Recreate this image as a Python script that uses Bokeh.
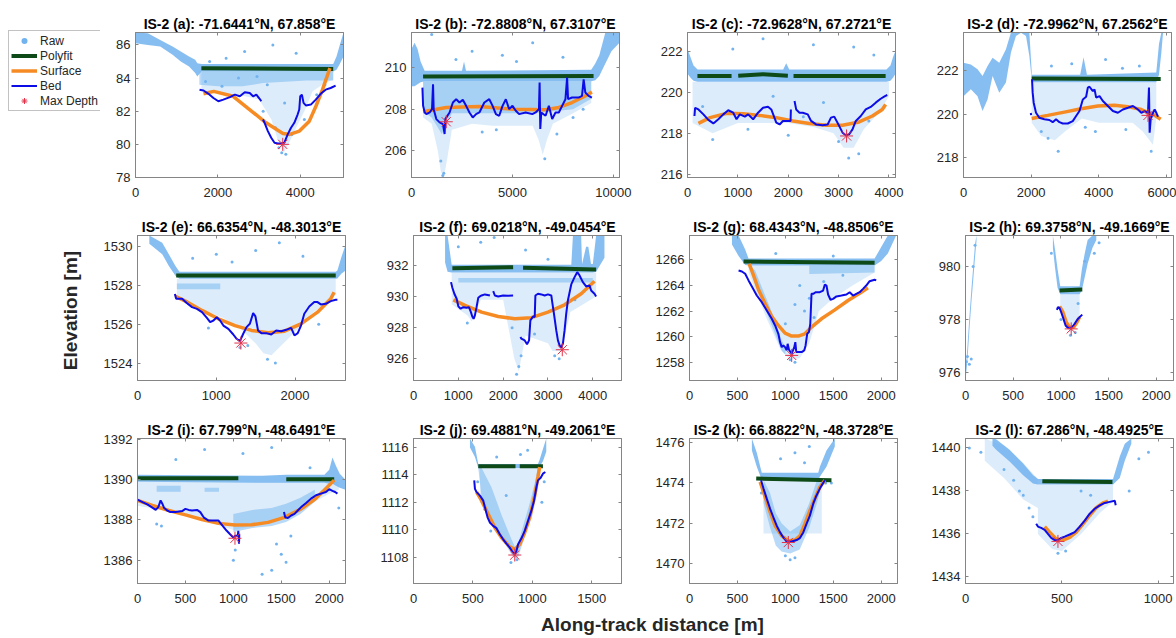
import math
from bokeh.plotting import figure
from bokeh.layouts import row, column
from bokeh.models import Range1d, FixedTicker, Legend, LegendItem, Label, BasicTickFormatter, LinearAxis
from bokeh.embed import file_html
from bokeh.resources import INLINE

nan = float("nan")

# ---------------- data ----------------
TITLES = ["IS-2 (a): -71.6441°N, 67.858°E", "IS-2 (b): -72.8808°N, 67.3107°E",
          "IS-2 (c): -72.9628°N, 67.2721°E", "IS-2 (d): -72.9962°N, 67.2562°E",
          "IS-2 (e): 66.6354°N, -48.3013°E", "IS-2 (f): 69.0218°N, -49.0454°E",
          "IS-2 (g): 68.4343°N, -48.8506°E", "IS-2 (h): 69.3758°N, -49.1669°E",
          "IS-2 (i): 67.799°N, -48.6491°E", "IS-2 (j): 69.4881°N, -49.2061°E",
          "IS-2 (k): 66.8822°N, -48.3728°E", "IS-2 (l): 67.286°N, -48.4925°E"]
LEGEND_LABELS = ["Raw", "Polyfit", "Surface", "Bed", "Max Depth"]
X_LABEL = "Along-track distance [m]"
Y_LABEL = "Elevation [m]"

# (a)
a_xlim = [0, 5050]; a_ylim = [78, 86.75]
a_xticks = [0, 2000, 4000]; a_yticks = [78, 80, 82, 84, 86]
a_band_x = [0, 300, 600, 900, 1100, 1300, 1450, 1500, 1600, 4800, 4880, 4950, 5050]
a_band_lo = [86.1, 86.0, 85.9, 85.4, 85.0, 84.7, 84.3, 84.1, 84.4, 84.4, 84.5, 84.8, 85.3]
a_band_hi = [86.75, 86.7, 86.3, 85.9, 85.6, 85.3, 85.1, 84.9, 84.85, 84.85, 85.3, 85.9, 86.75]
a_mid_x = [1550, 2000, 2600, 3100, 4150, 4200, 4800]
a_mid_lo = [83.6, 83.5, 83.5, 83.7, 83.85, 83.85, 83.85]
a_mid_hi = [84.4, 84.4, 84.4, 84.4, 84.4, 84.4, 84.4]
a_haze_x = [1600, 2000, 2500, 3000, 3300, 3450, 3600, 3750, 3900, 4100, 4300, 4600, 4800]
a_haze_lo = [83.3, 83.1, 83.0, 82.7, 81.5, 80.3, 79.5, 80.2, 81.0, 82.0, 83.2, 83.7, 83.9]
a_haze_hi = [84.4, 84.4, 84.4, 84.4, 84.4, 84.4, 84.4, 84.4, 84.4, 84.4, 84.4, 84.4, 84.4]
a_pts_x = [1800, 2200, 2650, 3335, 3900, 2500, 2950, 3100, 3400, 3480, 3550, 3650, 3800, 4100, 4400, 4600, 1700, 2100, 3200, 3620]
a_pts_y = [85.0, 85.2, 85.6, 86.0, 85.5, 84.0, 84.1, 82.0, 81.0, 79.8, 79.5, 79.4, 80.6, 81.5, 83.0, 83.6, 83.8, 83.5, 83.6, 82.5]
a_fit_x = [1600, 4800]; a_fit_y = [84.6, 84.55]
a_surf_x = [1650, 1900, 2370, 2770, 3170, 3580, 3740, 3980, 4220, 4380, 4540, 4720]
a_surf_y = [83.05, 83.2, 82.9, 82.1, 81.3, 80.65, 80.6, 80.8, 81.4, 82.3, 83.3, 84.6]
a_bed_x = [1555, 1651, 1772, 1892, 2012, 2132, 2293, 2413, 2533, 2653, 2774, 2854, 2934, 3014, 3054, nan,
           3094, 3134, 3214, 3295, 3375, 3455, 3535, 3615, 3695, 3776, 3856, 3936, 3976, 4000, 4040, 4080,
           4136, 4257, 4377, 4497, 4617, 4737, 4858]
a_bed_y = [83.3, 83.25, 83.05, 82.8, 82.6, 82.7, 82.85, 83.0, 82.9, 83.15, 83.1, 82.9, 83.0, 82.75, 82.6, nan,
           81.5, 81.3, 80.8, 80.4, 80.1, 80.05, 80.05, 80.1, 80.6, 81.0, 81.3, 81.8, 82.1, 82.9, 83.0, 82.5,
           82.35, 82.4, 82.7, 83.05, 83.3, 83.4, 83.55]
a_max = [3575, 80.0]

# (b)
b_xlim = [0, 10300]; b_ylim = [204.7, 211.7]
b_xticks = [0, 5000, 10000]; b_yticks = [206, 208, 210]
b_band_x = [0, 150, 300, 450, 650, 2500, 2600, 2700, 8900, 9100, 9300, 9600, 9900, 10300]
b_band_lo = [209.1, 209.1, 209.2, 209.3, 209.35, 209.35, 209.35, 209.35, 209.35, 209.4, 209.6, 210.2, 210.8, 211.2]
b_band_hi = [210.9, 211.2, 210.9, 210.3, 209.85, 209.85, 210.3, 209.85, 209.9, 210.2, 210.6, 211.7, 211.7, 211.7]
b_mid_x = [574, 1000, 1500, 2000, 4000, 6000, 8000, 8900]
b_mid_lo = [207.9, 207.6, 206.8, 207.8, 207.8, 207.8, 208.0, 208.5]
b_mid_hi = [209.35, 209.35, 209.35, 209.35, 209.35, 209.35, 209.35, 209.35]
b_haze_x = [574, 1000, 1300, 1450, 1600, 1750, 2000, 3000, 4000, 5000, 6000, 6300, 6500, 6700, 7000, 8000, 8900]
b_haze_lo = [207.6, 207.3, 206.0, 205.0, 204.7, 205.5, 207.0, 207.3, 207.2, 207.2, 207.2, 206.5, 205.8, 206.5, 207.3, 207.8, 208.3]
b_haze_hi = [209.35] * 17
b_pts_x = [1000, 3000, 4500, 6000, 7500, 2200, 5200, 1600, 1450, 6600, 3500, 8000, 4200, 7200, 8500, 1550]
b_pts_y = [211.6, 210.8, 210.6, 211.2, 210.5, 210.4, 210.3, 204.9, 205.5, 205.6, 206.9, 207.6, 207.0, 206.8, 208.0, 204.8]
b_fit_x = [574, 9016]; b_fit_y = [209.57, 209.6]
b_surf_x = [574, 1721, 3361, 5000, 6639, 7295, 7951, 8607, 8934]
b_surf_y = [207.87, 208.08, 208.13, 208.0, 207.97, 208.08, 208.32, 208.64, 208.83]
b_bed_x = [541, 574, 656, 738, 902, 1016, 1066, 1098, 1230, 1393, 1557, 1639, 1672, 1885, 2049, 2213, 2377,
           2541, 2705, 2869, 3033, 3197, 3361, 3607, 3852, 4016, 4180, 4344, 4508, 4672, 4836, 5000, 5164,
           5328, 5656, 5984, 6148, 6311, 6344, 6377, 6426, 6639, 6803, 6885, 6967, 7131, 7295, 7459, 7623,
           7705, 7754, 7951, 8279, 8443, 8525, 8607, 8770, 8934]
b_bed_y = [209.04, 208.16, 207.84, 207.76, 207.84, 208.0, 209.2, 208.0, 207.52, 207.36, 207.28, 206.8, 207.52,
           207.84, 208.32, 208.48, 208.32, 208.45, 208.16, 207.84, 207.6, 207.76, 207.84, 208.32, 208.48,
           208.16, 207.76, 207.68, 208.16, 208.48, 208.0, 208.16, 207.92, 207.76, 207.84, 207.76, 207.84,
           208.0, 209.28, 207.04, 207.84, 207.68, 208.16, 207.84, 207.52, 207.84, 207.84, 208.16, 208.48,
           209.52, 208.48, 208.56, 208.56, 208.64, 209.44, 208.8, 208.64, 208.56]
b_max = [1721, 207.39]

# (c)
c_xlim = [0, 4130]; c_ylim = [215.85, 222.9]
c_xticks = [0, 1000, 2000, 3000, 4000]; c_yticks = [216, 218, 220, 222]
c_band_x = [0, 60, 120, 200, 1900, 1960, 2020, 3950, 4030, 4080, 4130]
c_band_lo = [220.9, 220.7, 220.55, 220.5, 220.5, 220.5, 220.5, 220.5, 220.55, 220.7, 220.9]
c_band_hi = [222.1, 221.7, 221.3, 221.1, 221.1, 221.4, 221.1, 221.1, 221.3, 221.7, 222.0]
c_haze_x = [100, 500, 1000, 1500, 2000, 2500, 2900, 3100, 3300, 3500, 3800, 4000]
c_haze_lo = [218.5, 218.0, 218.5, 218.5, 218.5, 218.3, 218.0, 217.3, 217.3, 218.2, 219.0, 219.8]
c_haze_hi = [220.5] * 12
c_pts_x = [1500, 2500, 900, 3300, 3700, 500, 3200, 3400, 2000, 1200, 2700, 1700, 300, 3600, 3000, 2300]
c_pts_y = [222.6, 222.3, 222.1, 222.2, 221.8, 217.7, 216.8, 217.0, 217.9, 218.2, 219.5, 219.8, 219.3, 218.6, 217.6, 218.8]
c_fit_x = [197, 875, nan, 1007, 1500, 1993, nan, 2105, 3934]
c_fit_y = [220.78, 220.78, nan, 220.8, 220.87, 220.8, nan, 220.78, 220.78]
c_surf_x = [217, 447, 776, 1105, 1434, 1763, 2092, 2421, 2750, 3079, 3408, 3671, 3868, 3934]
c_surf_y = [218.48, 218.76, 218.97, 218.95, 218.87, 218.76, 218.6, 218.48, 218.39, 218.39, 218.55, 218.84, 219.16, 219.4]
c_bed_x = [138, 151, 217, 316, 414, 513, 612, 711, 809, 908, 974, 1039, 1138, 1204, 1303, 1401, 1500, 1599,
           1664, 1763, 1829, 1895, 1993, 2046, 2053, nan, 2125, 2158, 2224, 2289, 2388, 2454, 2553, 2684,
           2783, 2849, 2914, 3013, 3079, 3145, 3211, 3276, 3342, 3441, 3539, 3638, 3737, 3836, 3921, 3967]
c_bed_y = [218.84, 219.24, 219.16, 218.92, 218.65, 218.48, 218.68, 218.92, 219.12, 219.0, 218.68, 218.92,
           218.81, 218.92, 218.68, 219.0, 219.24, 219.29, 219.16, 218.52, 218.43, 218.6, 218.6, 218.6, 219.16,
           nan, 219.57, 219.16, 219.0, 219.0, 218.92, 218.6, 218.43, 218.39, 218.43, 218.76, 218.81, 218.35,
           218.03, 217.9, 217.95, 218.19, 218.6, 218.84, 219.16, 219.28, 219.49, 219.68, 219.81, 219.86]
c_max = [3158, 217.87]

# (d)
d_xlim = [0, 6150]; d_ylim = [217.1, 223.73]
d_xticks = [0, 2000, 4000, 6000]; d_yticks = [218, 220, 222]
d_band1_x = [0, 217, 415, 563, 711, 860, 1057, 1255, 1403, 1551, 1700, 1848, 1947, 2016]
d_band1_lo = [220.82, 221.13, 220.82, 220.14, 220.67, 221.74, 220.98, 221.44, 222.81, 223.57, 223.72, 223.57, 222.66, 221.59]
d_band1_hi = [222.35, 222.27, 222.05, 221.74, 222.2, 222.58, 222.35, 222.96, 223.73, 223.73, 223.73, 223.73, 223.73, 221.97]
d_band2_x = [2016, 3450, 3550, 3650, 5700, 5780, 5850, 5900]
d_band2_lo = [221.45, 221.45, 221.45, 221.45, 221.45, 221.8, 222.8, 223.73]
d_band2_hi = [221.8, 221.8, 222.6, 221.8, 221.9, 223.2, 223.73, 223.73]
d_haze_x = [2016, 2300, 2700, 3000, 3500, 4000, 4500, 5000, 5300, 5500, 5600, 5700]
d_haze_lo = [219.6, 219.0, 218.8, 219.2, 219.8, 219.6, 219.6, 219.6, 219.2, 218.8, 218.6, 219.8]
d_haze_hi = [221.45] * 12
d_pts_x = [2800, 2500, 3200, 4200, 4700, 5200, 2600, 3900, 4800, 5550, 2300, 3600]
d_pts_y = [218.3, 218.9, 222.3, 222.5, 222.1, 222.2, 222.2, 219.2, 219.3, 218.3, 219.2, 219.4]
d_fit_x = [2016, 5830]; d_fit_y = [221.63, 221.6]
d_surf_x = [2016, 2490, 2984, 3478, 3972, 4466, 4862, 5257, 5652, 5830]
d_surf_y = [219.8, 219.94, 220.09, 220.24, 220.37, 220.4, 220.34, 220.21, 219.94, 219.76]
d_bed_x = [1990, 2000, nan, 2026, 2045, 2075, 2144, 2243, 2391, 2540, 2638, 2737, 2836, 2935, 3083, 3231, 3330,
           3429, 3528, 3626, 3676, 3725, 3824, 3874, 3923, 4022, 4121, 4269, 4417, 4565, 4713, 4862, 5010,
           5158, 5257, 5356, 5455, 5484, 5504, 5534, 5603, 5652, 5702, 5751]
d_bed_y = [220.05, 219.95, nan, 221.59, 220.98, 220.52, 220.06, 219.83, 219.76, 219.73, 219.63, 219.76, 219.63,
           219.57, 219.57, 219.68, 219.91, 220.14, 220.67, 220.79, 221.21, 221.25, 221.05, 221.13, 220.75,
           220.82, 220.6, 220.37, 220.14, 220.06, 220.21, 220.29, 220.37, 220.21, 220.06, 220.14, 220.06,
           221.21, 219.15, 219.76, 220.06, 220.21, 220.06, 219.88]
d_max = [5455, 219.94]

# (e)
e_xlim = [0, 2640]; e_ylim = [1523.1, 1530.57]
e_xticks = [0, 1000, 2000]; e_yticks = [1524, 1526, 1528, 1530]
e_band_x = [150, 314, 398, 482, 532, 2516, 2537, 2587, 2642]
e_band_lo = [1530.14, 1529.6, 1529.0, 1528.5, 1528.34, 1528.34, 1528.35, 1528.6, 1528.77]
e_band_hi = [1530.57, 1530.2, 1529.6, 1529.0, 1528.7, 1528.7, 1528.77, 1529.45, 1530.1]
e_mid_x = [500, 1050]; e_mid_lo = [1527.8, 1527.8]; e_mid_hi = [1528.1, 1528.1]
e_haze_x = [500, 800, 1100, 1300, 1500, 1600, 1700, 1850, 2000, 2200, 2516]
e_haze_lo = [1527.3, 1526.8, 1526.3, 1525.8, 1525.0, 1524.5, 1524.4, 1525.0, 1525.6, 1526.5, 1527.5]
e_haze_hi = [1528.34] * 11
e_pts_x = [1000, 1500, 2100, 700, 1200, 1800, 1300, 1650, 1750, 1400, 900, 2300]
e_pts_y = [1529.6, 1529.8, 1529.5, 1529.4, 1529.2, 1530.2, 1524.8, 1524.2, 1524.0, 1524.9, 1525.8, 1526.0]
e_fit_x = [491, 2516]; e_fit_y = [1528.51, 1528.51]
e_surf_x = [482, 608, 818, 1027, 1237, 1447, 1656, 1866, 2075, 2285, 2453, 2495]
e_surf_y = [1527.43, 1527.19, 1526.71, 1526.28, 1525.93, 1525.68, 1525.56, 1525.64, 1526.02, 1526.62, 1527.31, 1527.65]
e_bed_x = [474, 491, 566, 629, 692, 755, 818, 881, 922, 964, 1006, 1048, 1090, 1153, 1216, 1258, 1300, 1342,
           1384, 1426, 1468, 1497, 1530, 1572, 1635, 1698, 1761, 1824, 1887, 1950, 1992, 2034, 2075, 2117,
           2180, 2243, 2285, 2327, 2390, 2453, 2516, 2537]
e_bed_y = [1527.56, 1527.31, 1527.31, 1527.08, 1526.88, 1526.79, 1526.62, 1526.33, 1526.11, 1526.19, 1526.36,
           1526.19, 1525.93, 1525.76, 1525.47, 1525.25, 1525.13, 1525.51, 1525.85, 1526.02, 1526.57, 1526.4,
           1525.68, 1525.54, 1525.54, 1525.47, 1525.68, 1525.64, 1525.71, 1525.81, 1525.42, 1525.54, 1525.93,
           1526.54, 1526.91, 1527.14, 1527.14, 1527.02, 1527.05, 1527.19, 1527.26, 1527.26]
e_max = [1312, 1525.03]

# (f)
f_xlim = [0, 4640]; f_ylim = [924.6, 933.93]
f_xticks = [0, 1000, 2000, 3000, 4000]; f_yticks = [926, 928, 930, 932]
f_band_x = [704, 760, 852, 3520, 3556, 3740, 3760, 3850, 3900, 3960, 4000, 4074, 4260]
f_band_lo = [932.2, 931.6, 931.55, 931.55, 931.55, 931.55, 931.55, 931.55, 931.55, 931.55, 931.55, 931.6, 932.5]
f_band_hi = [933.93, 933.93, 932.05, 932.05, 933.9, 933.9, 932.1, 933.2, 933.2, 932.1, 932.1, 933.93, 933.93]
f_mid_x = [1000, 4000]; f_mid_lo = [930.9, 930.9]; f_mid_hi = [931.2, 931.2]
f_haze_x = [852, 1200, 1300, 1500, 2000, 2250, 2350, 2500, 3000, 3100, 3300, 3500, 4074]
f_haze_lo = [929.5, 928.8, 928.4, 929.8, 929.8, 926.0, 925.2, 927.5, 927.0, 926.5, 926.5, 929.0, 930.0]
f_haze_hi = [931.55] * 13
f_pts_x = [1500, 1800, 2500, 3000, 1000, 2350, 2400, 3150, 2200, 1200, 2700, 3600, 2300, 3250]
f_pts_y = [933.5, 933.8, 933.0, 932.4, 933.2, 925.5, 926.2, 926.2, 928.0, 928.3, 927.6, 929.8, 925.0, 926.0]
f_fit_x = [867, 2222, nan, 2444, 4074]; f_fit_y = [931.83, 931.89, nan, 931.85, 931.74]
f_surf_x = [889, 1148, 1519, 1889, 2259, 2630, 3000, 3370, 3741, 4037]
f_surf_y = [929.79, 929.43, 929.0, 928.72, 928.57, 928.64, 929.0, 929.47, 930.18, 930.99]
f_bed_x = [837, 867, 911, 963, 1000, 1052, 1111, 1185, 1237, 1281, 1311, 1341, 1370, 1407, 1444, 1481, 1519,
           1593, 1681, 1704, nan, 1778, 1815, 1889, 2000, 2111, 2222, nan, 2385, 2407, 2481, 2533, 2578, 2607,
           2667, 2704, 2719, 2778, 2852, 2926, 3000, 3074, 3089, 3133, 3185, 3222, 3259, 3296, 3333, 3370,
           3407, 3444, 3519, 3593, 3652, 3704, 3778, 3852, 3926, 3963, 4037, 4074]
f_bed_y = [930.93, 930.57, 930.18, 929.86, 929.37, 929.22, 929.32, 929.28, 929.32, 929.0, 928.72, 928.57,
           928.79, 929.32, 929.92, 930.01, 930.07, 930.14, 930.09, 930.07, nan, 930.35, 930.07, 930.01, 930.07,
           930.05, 930.07, nan, 927.4, 927.29, 927.18, 926.93, 927.18, 928.47, 928.72, 928.68, 930.07, 930.18,
           930.14, 930.07, 930.14, 930.07, 929.75, 928.9, 927.82, 927.18, 926.86, 926.71, 926.97, 927.82,
           928.9, 929.75, 930.78, 931.25, 931.57, 931.36, 930.93, 930.65, 930.72, 930.39, 930.18, 930.01]
f_max = [3319, 926.58]

# (g)
g_xlim = [0, 2170]; g_ylim = [1256.57, 1267.9]
g_xticks = [0, 500, 1000, 1500, 2000]; g_yticks = [1258, 1260, 1262, 1264, 1266]
g_band_x = [443, 512, 581, 616, 1931, 2000, 2069, 2156]
g_band_lo = [1267.2, 1266.3, 1265.6, 1265.55, 1265.55, 1265.9, 1266.5, 1267.9]
g_band_hi = [1267.9, 1267.9, 1266.8, 1266.1, 1266.1, 1267.0, 1267.9, 1267.9]
g_mid_x = [616, 685, 754, 824, 893, 962, 1000]
g_mid_lo = [1265.55, 1264.13, 1262.82, 1261.52, 1260.22, 1258.9, 1258.6]
g_mid_hi = [1265.55, 1265.17, 1263.86, 1262.56, 1261.26, 1259.7, 1259.2]
g_mid2_x = [1250, 1931]; g_mid2_lo = [1264.9, 1265.0]; g_mid2_hi = [1265.55, 1265.55]
g_haze_x = [616, 800, 950, 1050, 1150, 1250, 1350, 1500, 1700, 1931]
g_haze_lo = [1265.0, 1261.5, 1259.0, 1258.2, 1258.3, 1259.5, 1262.0, 1263.0, 1264.0, 1265.0]
g_haze_hi = [1265.55] * 10
g_pts_x = [1100, 1200, 1300, 1000, 1400, 1600, 1250, 1150, 1050, 1100, 900, 1500]
g_pts_y = [1262.5, 1262.0, 1261.5, 1261.0, 1264.3, 1264.8, 1263.0, 1264.0, 1258.2, 1258.0, 1266.5, 1266.3]
g_fit_x = [564, 1931]; g_fit_y = [1265.87, 1265.77]
g_surf_x = [623, 668, 720, 789, 858, 927, 997, 1066, 1135, 1204, 1273, 1377, 1516, 1654, 1792, 1862]
g_surf_y = [1265.69, 1264.78, 1263.66, 1262.56, 1261.57, 1260.87, 1260.27, 1260.04, 1260.04, 1260.22,
            1260.74, 1261.39, 1262.09, 1262.82, 1263.47, 1263.81]
g_bed_x = [512, 547, 581, 616, 651, 702, 754, 806, 858, 893, 927, 945, 962, 979, 997, 1014, 1024, 1038, 1066,
           1093, 1104, 1114, 1142, 1170, 1197, 1211, 1228, 1246, 1260, 1273, 1291, 1315, 1360, 1394, 1412,
           1429, 1446, 1471, 1498, 1533, 1585, 1637, 1671, 1706, 1740, 1775, 1810, 1844, 1879, 1931, 1948]
g_bed_y = [1265.17, 1265.09, 1264.91, 1264.39, 1263.92, 1263.21, 1262.69, 1262.04, 1261.39, 1260.87, 1260.22,
           1259.57, 1259.18, 1259.31, 1259.18, 1258.92, 1259.44, 1258.97, 1258.66, 1259.18, 1259.57, 1258.79,
           1258.79, 1258.79, 1258.92, 1259.31, 1260.22, 1260.35, 1261.0, 1263.34, 1263.34, 1263.47, 1263.47,
           1263.6, 1264.07, 1263.99, 1263.29, 1262.88, 1262.95, 1263.14, 1263.21, 1263.29, 1263.47, 1263.21,
           1263.34, 1263.47, 1263.73, 1263.99, 1264.33, 1264.44, 1264.39]
g_max = [1066, 1258.53]

# (h)
h_xlim = [0, 2180]; h_ylim = [975.69, 981.17]
h_xticks = [0, 500, 1000, 1500, 2000]; h_yticks = [976, 978, 980]
h_band1_x = [0, 20, 40, 60, 80, 100, 115]
h_band1_lo = [975.69, 976.45, 977.55, 978.55, 979.45, 980.35, 980.95]
h_band1_hi = [976.05, 976.95, 978.05, 979.05, 979.95, 980.85, 981.17]
h_band2_x = [916, 940, 965, 993, 1196, 1220, 1250, 1280, 1330, 1371]
h_band2_lo = [980.7, 979.9, 979.2, 978.95, 978.95, 979.1, 979.6, 980.1, 980.7, 981.0]
h_band2_hi = [981.17, 980.6, 979.9, 979.25, 979.25, 979.9, 980.5, 981.0, 981.17, 981.17]
h_haze_x = [993, 1050, 1100, 1150, 1196]
h_haze_lo = [978.3, 977.8, 977.5, 977.8, 978.2]
h_haze_hi = [978.95] * 5
h_pts_x = [60, 20, 40, 10, 80, 100, 1250, 1350, 1400, 1100, 1150, 900, 1000, 1180]
h_pts_y = [976.5, 976.6, 976.3, 976.4, 980.0, 980.8, 980.2, 980.5, 980.9, 977.4, 977.5, 980.5, 978.0, 978.6]
h_fit_x = [986, 1224]; h_fit_y = [979.09, 979.13]
h_surf_x = [986, 1021, 1056, 1091, 1133, 1168, 1196]
h_surf_y = [978.49, 978.27, 977.89, 977.7, 977.7, 977.89, 978.08]
h_bed_x = [958, 969, 986, 1003, 1021, 1049, 1073, 1108, 1133, 1154, 1178, 1203, 1224]
h_bed_y = [978.36, 978.46, 978.43, 978.27, 978.08, 977.77, 977.68, 977.68, 977.77, 977.89, 978.02, 978.11, 978.18]
h_max = [1108, 977.64]

# (i)
i_xlim = [0, 2170]; i_ylim = [1384.84, 1392.05]
i_xticks = [0, 500, 1000, 1500, 2000]; i_yticks = [1386, 1388, 1390, 1392]
i_band_x = [0, 1300, 1550, 1950, 2000, 2034, 2070, 2110, 2170]
i_band_lo = [1389.9, 1389.85, 1389.85, 1389.85, 1389.8, 1389.8, 1389.7, 1389.6, 1389.5]
i_band_hi = [1390.25, 1390.2, 1390.25, 1390.25, 1390.5, 1391.1, 1390.7, 1390.3, 1390.0]
i_mid_x = [1000, 1200, 1400, 1550, 1700, 1850]
i_mid_lo = [1387.4, 1387.6, 1387.7, 1387.9, 1388.3, 1388.9]
i_mid_hi = [1388.3, 1388.5, 1388.6, 1388.8, 1389.1, 1389.5]
i_mid2_x = [200, 450]; i_mid2_lo = [1389.4, 1389.4]; i_mid2_hi = [1389.7, 1389.7]
i_mid3_x = [700, 850]; i_mid3_lo = [1389.4, 1389.4]; i_mid3_hi = [1389.6, 1389.6]
i_haze_x = [0, 500, 1000, 1500, 2000, 2100]
i_haze_lo = [1388.7, 1388.3, 1387.5, 1388.0, 1389.3, 1389.5]
i_haze_hi = [1389.9] * 6
i_pts_x = [200, 250, 1000, 1020, 1300, 1400, 1450, 1500, 1550, 1600, 700, 1100, 1400, 400, 1800, 2100]
i_pts_y = [1387.8, 1387.7, 1386.0, 1386.5, 1385.3, 1385.5, 1386.8, 1386.3, 1385.9, 1387.2, 1391.5, 1391.3, 1391.6, 1391.0, 1390.6, 1388.6]
i_fit_x = [0, 1052, nan, 1552, 2052]; i_fit_y = [1390.07, 1390.07, nan, 1390.02, 1390.02]
i_surf_x = [0, 155, 328, 500, 672, 845, 1017, 1190, 1362, 1534, 1707, 1845, 1948, 2052]
i_surf_y = [1388.97, 1388.72, 1388.47, 1388.25, 1388.02, 1387.83, 1387.75, 1387.76, 1387.88, 1388.13,
            1388.55, 1389.01, 1389.48, 1389.98]
i_bed_x = [0, 52, 103, 155, 190, 217, 241, 259, 276, 310, 345, 397, 466, 500, 534, 569, 621, 655, 690, 741,
           793, 845, 872, 897, 931, 966, 1000, 1017, 1045, 1052, 1059, 1062, nan, 1528, 1541, 1569, 1603,
           1638, 1672, 1707, 1759, 1810, 1862, 1914, 1966, 2000, 2034, 2062, 2086]
i_bed_y = [1389.01, 1388.89, 1388.77, 1388.61, 1388.5, 1388.64, 1388.97, 1388.81, 1388.61, 1388.47, 1388.39,
           1388.39, 1388.44, 1388.55, 1388.5, 1388.47, 1388.5, 1388.39, 1388.13, 1387.97, 1387.97, 1387.97,
           1387.8, 1387.66, 1387.46, 1387.29, 1387.13, 1387.21, 1387.21, 1387.46, 1386.82, 1387.29, nan,
           1388.39, 1388.13, 1388.1, 1388.22, 1388.3, 1388.47, 1388.64, 1388.84, 1389.06, 1389.23, 1389.31,
           1389.39, 1389.53, 1389.45, 1389.39, 1389.31]
i_max = [1017, 1387.09]

# (j)
j_xlim = [0, 1750]; j_ylim = [1106.07, 1116.66]
j_xticks = [0, 500, 1000, 1500]; j_yticks = [1108, 1110, 1112, 1114, 1116]
j_band_x = [475, 517, 545, 1047, 1061, 1089, 1117]
j_band_lo = [1116.0, 1115.3, 1114.5, 1114.5, 1114.6, 1115.0, 1115.7]
j_band_hi = [1116.66, 1116.05, 1114.8, 1114.8, 1115.1, 1115.9, 1116.66]
j_mid_x = [545, 573, 656, 740, 824, 860]
j_mid_lo = [1114.5, 1112.4, 1110.6, 1109.4, 1108.2, 1107.9]
j_mid_hi = [1114.5, 1114.5, 1113.1, 1111.1, 1109.3, 1108.6]
j_mid2_x = [860, 880, 930, 980, 1020, 1047]
j_mid2_lo = [1107.9, 1108.0, 1109.3, 1110.8, 1112.3, 1113.8]
j_mid2_hi = [1108.6, 1109.0, 1110.5, 1112.0, 1113.4, 1114.5]
j_haze_x = [559, 700, 852, 1000, 1047]
j_haze_lo = [1112.0, 1110.0, 1107.9, 1111.0, 1113.0]
j_haze_hi = [1114.5] * 5
j_pts_x = [900, 960, 700, 820, 870, 1100, 1080, 600, 540, 780, 650]
j_pts_y = [1115.5, 1115.8, 1115.3, 1107.6, 1107.8, 1113.5, 1112.0, 1111.5, 1113.5, 1112.5, 1109.9]
j_fit_x = [545, 858, nan, 894, 1089]; j_fit_y = [1114.63, 1114.63, nan, 1114.63, 1114.63]
j_surf_x = [531, 573, 628, 684, 740, 810, 852, 894, 936, 978, 1020, 1047, 1061]
j_surf_y = [1112.74, 1112.12, 1111.14, 1110.16, 1109.42, 1108.74, 1108.56, 1108.93, 1109.79, 1110.9, 1112.49,
            1113.84, 1114.58]
j_bed_x = [511, 517, 531, 559, 587, 601, 623, 642, 670, 698, 726, 754, 782, 810, 832, 852, 866, 880, 908, 936,
           964, 992, 1014, 1034, 1047, 1070, 1089, 1109]
j_bed_y = [1113.6, 1112.98, 1112.74, 1112.49, 1112.12, 1111.63, 1110.9, 1110.53, 1110.28, 1110.11, 1109.67,
           1109.3, 1108.98, 1108.69, 1108.39, 1108.2, 1108.44, 1108.93, 1109.37, 1109.91, 1110.65, 1111.39,
           1112.12, 1113.1, 1113.6, 1113.79, 1114.09, 1114.21]
j_max = [852, 1108.15]

# (k)
k_xlim = [0, 2170]; k_ylim = [1469.02, 1476.2]
k_xticks = [0, 500, 1000, 1500, 2000]; k_yticks = [1470, 1472, 1474, 1476]
k_band_x = [651, 702, 754, 1343, 1360, 1429, 1516]
k_band_lo = [1475.6, 1474.8, 1474.15, 1474.15, 1474.3, 1474.8, 1475.8]
k_band_hi = [1476.2, 1475.5, 1474.5, 1474.5, 1474.8, 1475.6, 1476.2]
k_mid_x = [772, 840, 900, 960, 1050, 1150, 1250, 1330, 1380]
k_mid_lo = [1473.0, 1471.8, 1470.9, 1470.6, 1470.5, 1470.7, 1471.8, 1473.0, 1474.0]
k_mid_hi = [1474.15, 1473.5, 1472.5, 1472.0, 1471.6, 1471.9, 1473.0, 1474.15, 1474.15]
k_haze_x = [772, 1380]; k_haze_lo = [1471.5, 1471.5]; k_haze_hi = [1474.15, 1474.15]
k_pts_x = [1100, 950, 1250, 1050, 1000, 1100, 1420, 1480, 750, 1200]
k_pts_y = [1475.5, 1475.2, 1475.8, 1470.2, 1470.4, 1470.3, 1474.0, 1474.0, 1473.5, 1475.0]
k_fit_x = [696, 1481]; k_fit_y = [1474.22, 1474.13]
k_surf_x = [737, 789, 841, 893, 962, 1031, 1100, 1152, 1204, 1256, 1308, 1360, 1412]
k_surf_y = [1474.05, 1473.3, 1472.55, 1471.88, 1471.38, 1471.13, 1471.17, 1471.38, 1471.97, 1472.63, 1473.22,
            1473.8, 1474.13]
k_bed_x = [747, 772, 806, 841, 875, 910, 945, 979, 1014, 1066, 1118, 1152, 1187, 1221, 1256, 1291, 1325, 1360,
           1394, 1412]
k_bed_y = [1474.13, 1473.72, 1473.22, 1472.72, 1472.3, 1471.88, 1471.55, 1471.3, 1471.1, 1471.1, 1471.17,
           1471.27, 1471.55, 1471.97, 1472.38, 1472.97, 1473.38, 1473.72, 1474.0, 1474.13]
k_max = [1031, 1471.05]

# (l)
l_xlim = [0, 1080]; l_ylim = [1433.69, 1440.44]
l_xticks = [0, 500, 1000]; l_yticks = [1434, 1436, 1438, 1440]
l_band_x = [140, 159, 229, 298, 350, 376, 766, 801, 827, 861]
l_band_lo = [1440.1, 1439.92, 1439.37, 1438.74, 1438.35, 1438.3, 1438.3, 1438.6, 1439.4, 1440.2]
l_band_hi = [1440.44, 1440.4, 1439.92, 1439.29, 1438.74, 1438.55, 1438.55, 1439.6, 1440.2, 1440.44]
l_haze_x = [376, 450, 500, 600, 700, 766]
l_haze_lo = [1436.0, 1435.3, 1435.2, 1436.0, 1437.0, 1437.5]
l_haze_hi = [1438.3] * 6
l_haze2_x = [100, 200, 300, 376]
l_haze2_lo = [1439.4, 1438.6, 1437.6, 1437.2]
l_haze2_hi = [1440.44, 1440.1, 1439.3, 1438.55]
l_pts_x = [20, 80, 200, 250, 300, 330, 280, 900, 950, 850, 480, 520, 600, 650, 350]
l_pts_y = [1440.0, 1439.8, 1439.0, 1438.5, 1437.8, 1437.2, 1438.0, 1439.5, 1439.8, 1438.0, 1435.1, 1435.2, 1438.0, 1437.8, 1436.8]
l_fit_x = [399, 763]; l_fit_y = [1438.45, 1438.42]
l_surf_x = [411, 437, 471, 506, 541, 575, 610, 645, 679, 714, 740]
l_surf_y = [1436.34, 1436.08, 1435.76, 1435.71, 1435.84, 1436.08, 1436.47, 1436.86, 1437.22, 1437.44, 1437.52]
l_bed_x = [367, 376, 393, 411, 428, 445, 463, 480, 497, 515, 541, 567, 593, 619, 645, 671, 697, 723, 749, 775, 780]
l_bed_y = [1436.47, 1436.34, 1436.28, 1436.19, 1436.0, 1435.81, 1435.71, 1435.71, 1435.81, 1435.87, 1435.97,
           1436.08, 1436.34, 1436.62, 1436.94, 1437.17, 1437.33, 1437.44, 1437.49, 1437.54, 1437.33]
l_max = [480, 1435.65]

# ---------------- assemble panel table ----------------
PANELS = [
    dict(xlim=a_xlim, ylim=a_ylim, xt=a_xticks, yt=a_yticks, dense=[(a_band_x, a_band_lo, a_band_hi)],
         mid=[(a_mid_x, a_mid_lo, a_mid_hi)], haze=[(a_haze_x, a_haze_lo, a_haze_hi)], pts=(a_pts_x, a_pts_y),
         fit=(a_fit_x, a_fit_y), surf=(a_surf_x, a_surf_y), bed=(a_bed_x, a_bed_y), mx=a_max),
    dict(xlim=b_xlim, ylim=b_ylim, xt=b_xticks, yt=b_yticks, dense=[(b_band_x, b_band_lo, b_band_hi)],
         mid=[(b_mid_x, b_mid_lo, b_mid_hi)], haze=[(b_haze_x, b_haze_lo, b_haze_hi)], pts=(b_pts_x, b_pts_y),
         fit=(b_fit_x, b_fit_y), surf=(b_surf_x, b_surf_y), bed=(b_bed_x, b_bed_y), mx=b_max),
    dict(xlim=c_xlim, ylim=c_ylim, xt=c_xticks, yt=c_yticks, dense=[(c_band_x, c_band_lo, c_band_hi)],
         mid=[], haze=[(c_haze_x, c_haze_lo, c_haze_hi)], pts=(c_pts_x, c_pts_y),
         fit=(c_fit_x, c_fit_y), surf=(c_surf_x, c_surf_y), bed=(c_bed_x, c_bed_y), mx=c_max),
    dict(xlim=d_xlim, ylim=d_ylim, xt=d_xticks, yt=d_yticks,
         dense=[(d_band1_x, d_band1_lo, d_band1_hi), (d_band2_x, d_band2_lo, d_band2_hi)],
         mid=[], haze=[(d_haze_x, d_haze_lo, d_haze_hi)], pts=(d_pts_x, d_pts_y),
         fit=(d_fit_x, d_fit_y), surf=(d_surf_x, d_surf_y), bed=(d_bed_x, d_bed_y), mx=d_max),
    dict(xlim=e_xlim, ylim=e_ylim, xt=e_xticks, yt=e_yticks, dense=[(e_band_x, e_band_lo, e_band_hi)],
         mid=[(e_mid_x, e_mid_lo, e_mid_hi)], haze=[(e_haze_x, e_haze_lo, e_haze_hi)], pts=(e_pts_x, e_pts_y),
         fit=(e_fit_x, e_fit_y), surf=(e_surf_x, e_surf_y), bed=(e_bed_x, e_bed_y), mx=e_max),
    dict(xlim=f_xlim, ylim=f_ylim, xt=f_xticks, yt=f_yticks, dense=[(f_band_x, f_band_lo, f_band_hi)],
         mid=[(f_mid_x, f_mid_lo, f_mid_hi)], haze=[(f_haze_x, f_haze_lo, f_haze_hi)], pts=(f_pts_x, f_pts_y),
         fit=(f_fit_x, f_fit_y), surf=(f_surf_x, f_surf_y), bed=(f_bed_x, f_bed_y), mx=f_max),
    dict(xlim=g_xlim, ylim=g_ylim, xt=g_xticks, yt=g_yticks, dense=[(g_band_x, g_band_lo, g_band_hi)],
         mid=[(g_mid_x, g_mid_lo, g_mid_hi), (g_mid2_x, g_mid2_lo, g_mid2_hi)],
         haze=[(g_haze_x, g_haze_lo, g_haze_hi)], pts=(g_pts_x, g_pts_y),
         fit=(g_fit_x, g_fit_y), surf=(g_surf_x, g_surf_y), bed=(g_bed_x, g_bed_y), mx=g_max),
    dict(xlim=h_xlim, ylim=h_ylim, xt=h_xticks, yt=h_yticks,
         dense=[(h_band1_x, h_band1_lo, h_band1_hi), (h_band2_x, h_band2_lo, h_band2_hi)],
         mid=[], haze=[(h_haze_x, h_haze_lo, h_haze_hi)], pts=(h_pts_x, h_pts_y),
         fit=(h_fit_x, h_fit_y), surf=(h_surf_x, h_surf_y), bed=(h_bed_x, h_bed_y), mx=h_max),
    dict(xlim=i_xlim, ylim=i_ylim, xt=i_xticks, yt=i_yticks, dense=[(i_band_x, i_band_lo, i_band_hi)],
         mid=[(i_mid_x, i_mid_lo, i_mid_hi), (i_mid2_x, i_mid2_lo, i_mid2_hi), (i_mid3_x, i_mid3_lo, i_mid3_hi)],
         haze=[(i_haze_x, i_haze_lo, i_haze_hi)], pts=(i_pts_x, i_pts_y),
         fit=(i_fit_x, i_fit_y), surf=(i_surf_x, i_surf_y), bed=(i_bed_x, i_bed_y), mx=i_max),
    dict(xlim=j_xlim, ylim=j_ylim, xt=j_xticks, yt=j_yticks, dense=[(j_band_x, j_band_lo, j_band_hi)],
         mid=[(j_mid_x, j_mid_lo, j_mid_hi), (j_mid2_x, j_mid2_lo, j_mid2_hi)],
         haze=[(j_haze_x, j_haze_lo, j_haze_hi)], pts=(j_pts_x, j_pts_y),
         fit=(j_fit_x, j_fit_y), surf=(j_surf_x, j_surf_y), bed=(j_bed_x, j_bed_y), mx=j_max),
    dict(xlim=k_xlim, ylim=k_ylim, xt=k_xticks, yt=k_yticks, dense=[(k_band_x, k_band_lo, k_band_hi)],
         mid=[(k_mid_x, k_mid_lo, k_mid_hi)], haze=[(k_haze_x, k_haze_lo, k_haze_hi)], pts=(k_pts_x, k_pts_y),
         fit=(k_fit_x, k_fit_y), surf=(k_surf_x, k_surf_y), bed=(k_bed_x, k_bed_y), mx=k_max),
    dict(xlim=l_xlim, ylim=l_ylim, xt=l_xticks, yt=l_yticks, dense=[(l_band_x, l_band_lo, l_band_hi)],
         mid=[], haze=[(l_haze_x, l_haze_lo, l_haze_hi), (l_haze2_x, l_haze2_lo, l_haze2_hi)],
         pts=(l_pts_x, l_pts_y),
         fit=(l_fit_x, l_fit_y), surf=(l_surf_x, l_surf_y), bed=(l_bed_x, l_bed_y), mx=l_max),
]

# ---------------- styles ----------------
FONT = "Liberation Sans"
RAW = "#72b3ef"
FIT = "#0d4a18"
SURF = "#f68b24"
BED = "#0c0ce6"
MAXD = "#e2334b"
AX = "#858585"
TXT = "#262626"

FRAME_W, FRAME_H = 208, 145
LEFT_W = 100


def draw_series(p, pts, fit, surf, bed, mx, raw_size=3):
    r_raw = p.scatter(x=pts[0], y=pts[1], size=raw_size, marker="circle", fill_color=RAW, line_color=None)
    r_fit = p.line(x=fit[0], y=fit[1], line_color=FIT, line_width=4)
    r_surf = p.line(x=surf[0], y=surf[1], line_color=SURF, line_width=3.5)
    r_bed = p.line(x=bed[0], y=bed[1], line_color=BED, line_width=2)
    r_max = p.scatter(x=mx[0], y=mx[1], marker="asterisk", size=13, line_color=MAXD, line_width=1)
    return [r_raw, r_fit, r_surf, r_bed, r_max]


def style_axis(ax, ticks, show_labels):
    ax.ticker = FixedTicker(ticks=ticks)
    ax.formatter = BasicTickFormatter(use_scientific=False)
    ax.major_tick_in = 3
    ax.major_tick_out = 0
    ax.minor_tick_line_color = None
    ax.axis_line_color = AX
    ax.major_tick_line_color = AX
    ax.major_label_text_font = FONT
    if show_labels:
        ax.major_label_text_font_size = "13px"
        ax.major_label_text_color = TXT
    else:
        # tick marks only: labels are not drawn at all
        ax.major_label_text_font_size = "1px"
        ax.major_label_text_color = None
        ax.major_label_standoff = 0


def make_panel(k):
    P = PANELS[k]
    r, c = divmod(k, 4)
    p = figure(frame_width=FRAME_W, frame_height=FRAME_H,
               min_border_left=(135 - LEFT_W) if c == 0 else 50,
               min_border_right=5 if c == 3 else 18,
               min_border_top=32,
               min_border_bottom=26 if r < 2 else 27,
               x_range=Range1d(*P["xlim"]), y_range=Range1d(*P["ylim"]),
               output_backend="svg", toolbar_location=None, title=TITLES[k])
    p.title.text_font = FONT
    p.title.text_font_size = "14px"
    p.title.text_font_style = "bold"
    p.title.text_color = "#000000"
    p.title.align = "center"
    p.title.standoff = 2
    p.outline_line_color = AX
    p.outline_line_alpha = 1
    p.background_fill_color = "white"
    p.border_fill_color = "white"
    p.xgrid.visible = False
    p.ygrid.visible = False
    style_axis(p.xaxis[0], P["xt"], True)
    style_axis(p.yaxis[0], P["yt"], True)
    p.xaxis.major_label_standoff = 10
    p.yaxis.major_label_standoff = 5
    # box ticks on the top and right edges, as in the source figure
    top_ax = LinearAxis()
    style_axis(top_ax, P["xt"], False)
    p.add_layout(top_ax, "above")
    right_ax = LinearAxis()
    style_axis(right_ax, P["yt"], False)
    p.add_layout(right_ax, "right")

    for (x, lo, hi) in P["haze"]:
        p.varea(x=x, y1=lo, y2=hi, fill_color=RAW, fill_alpha=0.25)
    for (x, lo, hi) in P["mid"]:
        p.varea(x=x, y1=lo, y2=hi, fill_color=RAW, fill_alpha=0.5)
    for (x, lo, hi) in P["dense"]:
        p.varea(x=x, y1=lo, y2=hi, fill_color=RAW, fill_alpha=0.85)
    draw_series(p, P["pts"], P["fit"], P["surf"], P["bed"], ([P["mx"][0]], [P["mx"][1]]))
    return p


figs = [make_panel(k) for k in range(12)]
grid_h = (32 + FRAME_H + 26) * 2 + (32 + FRAME_H + 27)

# left strip: legend + y label.  The legend's renderers reuse panel (a)'s series,
# whose x values lie far outside this strip's x range, so only the legend glyphs show.
left = figure(frame_width=LEFT_W, frame_height=grid_h, min_border=0, x_axis_type=None, y_axis_type=None,
              x_range=Range1d(0, LEFT_W), y_range=Range1d(0, grid_h),
              output_backend="svg", toolbar_location=None)
left.grid.visible = False
left.outline_line_color = None
Pa = PANELS[0]
proxies = draw_series(left, Pa["pts"], Pa["fit"], Pa["surf"], Pa["bed"], ([Pa["mx"][0]], [Pa["mx"][1]]),
                      raw_size=4)
legend = Legend(items=[LegendItem(label=lab, renderers=[rr], index=0) for lab, rr in zip(LEGEND_LABELS, proxies)],
                location=(8, grid_h - 111))
legend.label_text_font = FONT
legend.label_text_font_size = "12px"
legend.label_text_color = TXT
legend.glyph_width = 26
legend.glyph_height = 15
legend.label_height = 15
legend.label_standoff = 3
legend.spacing = 0
legend.padding = 2
legend.margin = 0
legend.border_line_color = AX
legend.border_line_width = 1
legend.background_fill_color = "white"
legend.background_fill_alpha = 1
left.add_layout(legend)
left.add_layout(Label(x=70, y=grid_h - 310, text=Y_LABEL, angle=math.pi / 2, text_align="center",
                      text_baseline="middle", text_font=FONT, text_font_size="19px",
                      text_font_style="bold", text_color=TXT))

# bottom strip with x label
STRIP_H = 638 - grid_h
strip = figure(frame_width=1176, frame_height=STRIP_H, min_border=0, x_axis_type=None, y_axis_type=None,
               x_range=Range1d(0, 1176), y_range=Range1d(0, STRIP_H),
               output_backend="svg", toolbar_location=None)
strip.grid.visible = False
strip.outline_line_color = None
strip.add_layout(Label(x=652, y=STRIP_H - 14, text=X_LABEL, text_align="center", text_baseline="middle",
                       text_font=FONT, text_font_size="19px", text_font_style="bold", text_color=TXT))

grid = column([row([figs[r * 4 + c] for c in range(4)], spacing=0) for r in range(3)], spacing=0)
page = column([row([left, grid], spacing=0), strip], spacing=0)

open("out.html", "w").write(file_html(page, INLINE))
